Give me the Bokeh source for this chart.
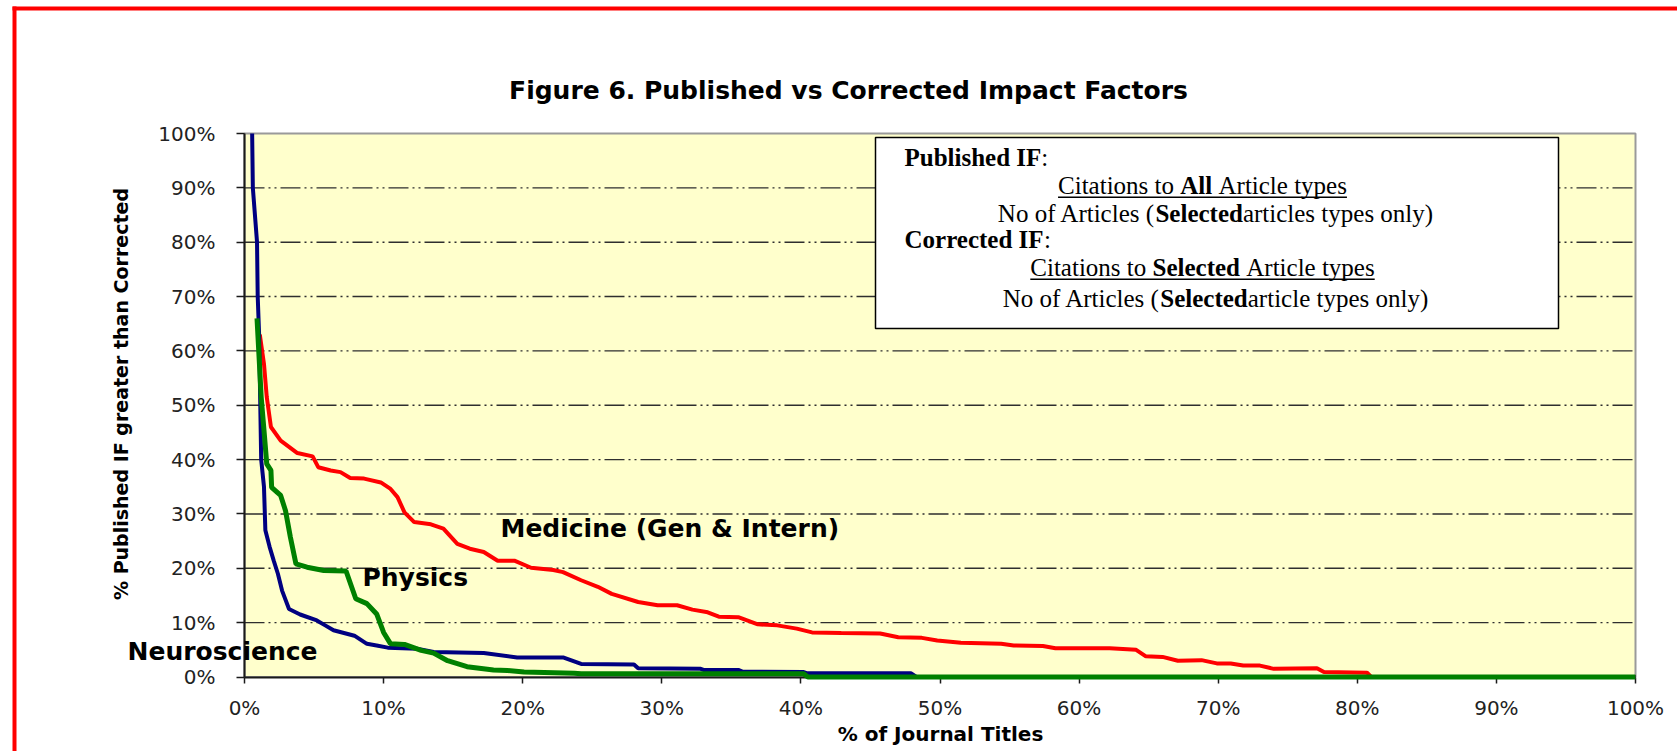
import math
from bokeh.plotting import figure
from bokeh.models import FixedTicker, BoxAnnotation, Label, Range1d
from bokeh.embed import file_html
from bokeh.resources import INLINE

# ---------------- data ----------------
med_x = [1.1, 1.4, 1.6, 1.9, 2.6, 3.8, 4.9, 5.3, 6.2, 6.9,
         7.6, 8.6, 9.8, 10.5, 11.0, 11.5, 12.2, 13.4, 14.3, 15.3,
         16.2, 17.2, 18.2, 19.4, 20.6, 22.2, 22.9, 24.2, 25.4, 26.4,
         28.3, 29.7, 31.1, 32.2, 33.3, 34.1, 35.5, 36.9, 38.3, 39.7,
         40.8, 42.9, 45.7, 47.0, 48.7, 49.8, 51.5, 54.4, 55.3, 57.4,
         58.3, 62.2, 64.1, 64.8, 66.0, 67.1, 68.8, 69.9, 70.9, 71.8,
         73.0, 74.0, 77.1, 77.6, 80.7, 81.0, 100.0]
med_y = [63.0, 57.6, 51.5, 46.0, 43.5, 41.2, 40.6, 38.6, 38.0, 37.7,
         36.6, 36.5, 35.8, 34.6, 33.1, 30.3, 28.5, 28.1, 27.3, 24.5,
         23.6, 23.0, 21.4, 21.4, 20.1, 19.7, 19.3, 17.8, 16.6, 15.3,
         13.8, 13.2, 13.2, 12.4, 11.9, 11.1, 11.0, 9.7, 9.5, 8.9,
         8.2, 8.1, 8.0, 7.3, 7.2, 6.7, 6.3, 6.1, 5.8, 5.7,
         5.3, 5.3, 5.0, 3.8, 3.7, 3.0, 3.1, 2.5, 2.5, 2.1,
         2.1, 1.5, 1.6, 0.9, 0.8, 0.0, 0.0]

neuro_x = [0.55, 0.6, 0.9, 0.95, 1.05, 1.2, 1.4, 1.5, 1.8, 2.1,
           2.4, 2.7, 3.2, 4.0, 5.2, 5.8, 6.4, 7.9, 8.8, 9.5,
           10.3, 12.4, 13.6, 17.2, 19.6, 22.9, 24.2, 28.0, 28.3, 32.8,
           33.0, 35.5, 35.8, 40.2, 40.4, 47.9, 48.3, 100.0]
neuro_y = [100.0, 90.0, 80.0, 70.0, 63.0, 40.0, 35.0, 27.0, 24.0, 21.4,
           19.0, 15.9, 12.5, 11.5, 10.4, 9.5, 8.6, 7.6, 6.1, 5.8,
           5.4, 5.2, 4.6, 4.4, 3.6, 3.6, 2.4, 2.3, 1.6, 1.5,
           1.3, 1.3, 1.0, 0.9, 0.7, 0.7, 0.0, 0.0]

phys_x = [0.9, 1.2, 1.4, 1.6, 1.9, 1.95, 2.6, 2.95, 3.3, 3.7,
          4.5, 5.7, 7.3, 8.0, 8.8, 9.5, 10.0, 10.5, 11.5, 12.7,
          13.6, 14.6, 16.0, 17.9, 18.9, 20.1, 23.7, 24.2, 40.2, 40.5,
          100.0]
phys_y = [66.0, 51.5, 45.4, 39.2, 38.0, 34.9, 33.4, 30.6, 25.7, 20.8,
          20.2, 19.6, 19.5, 14.4, 13.5, 11.6, 8.2, 6.1, 6.0, 4.9,
          4.4, 3.0, 1.9, 1.3, 1.2, 0.9, 0.7, 0.6, 0.6, 0.0,
          0.0]

x_ticks = [0, 10, 20, 30, 40, 50, 60, 70, 80, 90, 100]
x_tick_labels = ["0%", "10%", "20%", "30%", "40%", "50%", "60%", "70%", "80%", "90%", "100%"]
y_ticks = [0, 10, 20, 30, 40, 50, 60, 70, 80, 90, 100]
y_tick_labels = ["0%", "10%", "20%", "30%", "40%", "50%", "60%", "70%", "80%", "90%", "100%"]
grid_y = [10, 20, 30, 40, 50, 60, 70, 80, 90]

title_text = "Figure 6. Published vs Corrected Impact Factors"
x_title = "% of Journal Titles"
y_title = "% Published IF greater than Corrected"
series_labels = ["Medicine (Gen & Intern)", "Physics", "Neuroscience"]

box_lines = [
    [("Published IF", True), (":", False)],
    [("Citations to ", False), ("All", True), (" Article types", False)],
    [("No of Articles (", False), ("Selected", True), ("articles types only)", False)],
    [("Corrected IF", True), (":", False)],
    [("Citations to ", False), ("Selected", True), (" Article types", False)],
    [("No of Articles (", False), ("Selected", True), ("article types only)", False)],
]

# ---------------- geometry ----------------
W, H = 1677, 751                              # canvas
L, R, T, B = 244.0, 1635.0, 133.0, 676.5      # plot area in canvas pixels
PX = (R - L) / 100.0
PY = (B - T) / 100.0


def dx(px):
    return (px - L) / PX


def dy(py):
    return (B - py) / PY


p = figure(width=W, height=H,
           min_border_left=0, min_border_right=0, min_border_top=0, min_border_bottom=0,
           x_range=Range1d(dx(0), dx(W)), y_range=Range1d(dy(H), dy(0)),
           output_backend="svg", toolbar_location=None)

p.background_fill_color = "white"
p.border_fill_color = "white"
p.outline_line_color = None
p.xgrid.visible = False
p.ygrid.visible = False

# plot area (yellow) with grey frame
p.add_layout(BoxAnnotation(left=0, right=100, bottom=0, top=100,
                           fill_color="#FFFFCC", fill_alpha=1.0,
                           line_color="#9a9a9a", line_alpha=1.0, line_width=2, level="image"))

# dash-dot-dot grid lines
p.segment(x0=[0] * len(grid_y), x1=[100] * len(grid_y), y0=grid_y, y1=grid_y,
          line_color="#2e2e2e", line_width=1.4, line_dash="20 4 2 4 2 4", level="underlay")

# axes inside the frame
for ax, ticks, labels in ((p.xaxis[0], x_ticks, x_tick_labels), (p.yaxis[0], y_ticks, y_tick_labels)):
    ax.fixed_location = 0
    ax.bounds = (0, 100)
    ax.ticker = FixedTicker(ticks=ticks)
    ax.major_label_overrides = {t: l for t, l in zip(ticks, labels)}
    ax.minor_tick_line_color = None
    ax.major_tick_in = 0
    ax.axis_line_color = "#1a1a1a"
    ax.axis_line_width = 2
    ax.major_tick_line_color = "#1a1a1a"
    ax.major_tick_line_width = 1.5
    ax.major_label_text_font = "DejaVu Sans"
    ax.major_label_text_font_size = "20px"
    ax.major_label_text_color = "#222222"

p.xaxis.major_tick_out = 6
p.xaxis.major_label_standoff = 13
p.yaxis.major_tick_out = 8
p.yaxis.major_label_standoff = 21

# curves (drawn above the axis line, as in the reference)
p.line(med_x, med_y, line_color="#FF0000", line_width=4, level="overlay")
p.line(neuro_x, neuro_y, line_color="#000080", line_width=4, level="overlay")
p.line(phys_x, phys_y, line_color="#008000", line_width=5, level="overlay")

# titles
p.add_layout(Label(x=dx(848), y=dy(90), text=title_text,
                   text_font="DejaVu Sans", text_font_size="25px", text_font_style="bold",
                   text_color="black", text_align="center", text_baseline="middle"))
p.add_layout(Label(x=dx(940), y=dy(733), text=x_title,
                   text_font="DejaVu Sans", text_font_size="20px", text_font_style="bold",
                   text_color="black", text_align="center", text_baseline="middle"))
p.add_layout(Label(x=dx(120), y=dy(393.5), text=y_title, angle=math.pi / 2,
                   text_font="DejaVu Sans", text_font_size="19px", text_font_style="bold",
                   text_color="black", text_align="center", text_baseline="middle"))

# series labels
for txt, (lx, ly) in zip(series_labels, [(dx(500), dy(527.5)), (dx(362), dy(577)), (dx(127), dy(651))]):
    p.add_layout(Label(x=lx, y=ly, text=txt, text_font="DejaVu Sans",
                       text_font_size="25px", text_font_style="bold",
                       text_color="black", text_baseline="middle", text_align="left"))

# text box
p.add_layout(BoxAnnotation(left=dx(875), right=dx(1558), top=dy(137), bottom=dy(328),
                           fill_color="white", fill_alpha=1.0,
                           line_color="black", line_alpha=1.0, line_width=1.5))

BOX_FS = 25
REG_W = {' ': 250, '(': 333, ')': 333, ':': 278, 'A': 722, 'C': 667, 'F': 556, 'I': 333,
         'N': 722, 'P': 556, 'S': 556, 'a': 444, 'b': 500, 'c': 444, 'd': 500, 'e': 444,
         'f': 333, 'h': 500, 'i': 278, 'l': 278, 'n': 500, 'o': 500, 'p': 500, 'r': 333,
         's': 389, 't': 278, 'u': 500, 'y': 500}
BOLD_W = {' ': 250, ':': 333, 'A': 722, 'C': 722, 'F': 611, 'I': 389, 'P': 611, 'S': 556,
          'a': 500, 'b': 556, 'c': 444, 'd': 556, 'e': 444, 'h': 556, 'i': 278, 'l': 278,
          'o': 500, 'r': 444, 's': 389, 't': 333, 'u': 556}


def seg_w(s, bold):
    tab = BOLD_W if bold else REG_W
    return sum(tab.get(c, 500) for c in s) / 1000.0 * BOX_FS


# (anchor x px, baseline y px, alignment, underlined)
line_pos = [(904, 165.5, "left", False), (1202, 193.5, "center", True),
            (1215, 221.7, "center", False), (904, 247.0, "left", False),
            (1202, 275.5, "center", True), (1215, 306.5, "center", False)]
MID = 0.34 * BOX_FS   # distance from baseline to the middle of the em box

for segs, (ax_px, by_px, align, under) in zip(box_lines, line_pos):
    total = sum(seg_w(t, b) for t, b in segs)
    start = ax_px if align == "left" else ax_px - total / 2
    cur = start
    for t, b in segs:
        stripped = t.lstrip(" ")
        cur += seg_w(t[:len(t) - len(stripped)], b)
        p.add_layout(Label(x=dx(cur), y=dy(by_px - MID), text=stripped.rstrip(" "),
                           text_font="Liberation Serif", text_font_size=f"{BOX_FS}px",
                           text_font_style="bold" if b else "normal",
                           text_color="black", text_baseline="middle", text_align="left"))
        cur += seg_w(stripped, b)
    if under:
        p.add_layout(BoxAnnotation(left=dx(start), right=dx(start + total),
                                   top=dy(by_px + 2.5), bottom=dy(by_px + 4.0),
                                   fill_color="black", fill_alpha=1.0, line_color=None))

# red page frame (left and top edges visible)
p.add_layout(BoxAnnotation(left=dx(12), right=dx(16), top=dy(6), bottom=dy(H),
                           fill_color="#FF0000", fill_alpha=1.0, line_color=None))
p.add_layout(BoxAnnotation(left=dx(12), right=dx(W), top=dy(6), bottom=dy(10),
                           fill_color="#FF0000", fill_alpha=1.0, line_color=None))

open("out.html", "w").write(file_html(p, INLINE))
